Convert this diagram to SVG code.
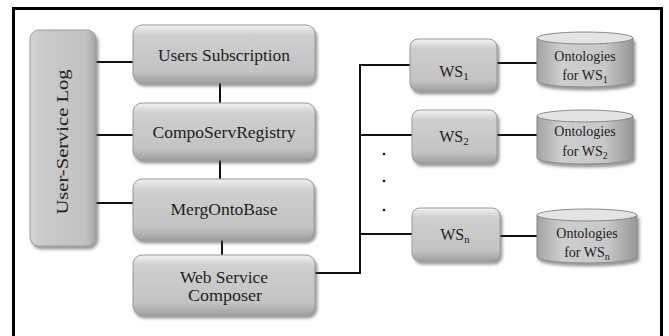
<svg xmlns="http://www.w3.org/2000/svg" width="669" height="336" viewBox="0 0 669 336">
<defs>
<linearGradient id="boxg" x1="0" y1="0" x2="0" y2="1">
<stop offset="0" stop-color="#f2f2f2"/>
<stop offset="0.18" stop-color="#cfcfcf"/>
<stop offset="0.8" stop-color="#c3c3c3"/>
<stop offset="1" stop-color="#a0a0a0"/>
</linearGradient>
<linearGradient id="logg" x1="0" y1="0" x2="1" y2="0">
<stop offset="0" stop-color="#d6d6d6"/>
<stop offset="0.2" stop-color="#cacaca"/>
<stop offset="0.85" stop-color="#c2c2c2"/>
<stop offset="1" stop-color="#a4a4a4"/>
</linearGradient>
<linearGradient id="cylg" x1="0" y1="0" x2="1" y2="0">
<stop offset="0" stop-color="#a4a4a4"/>
<stop offset="0.25" stop-color="#cecece"/>
<stop offset="0.7" stop-color="#c8c8c8"/>
<stop offset="1" stop-color="#969696"/>
</linearGradient>
<filter id="sh" x="-10%" y="-10%" width="125%" height="130%">
<feDropShadow dx="2" dy="3" stdDeviation="1.5" flood-color="#444" flood-opacity="0.55"/>
</filter>
</defs>
<style>
.box{fill:url(#boxg);stroke:#9a9a9a;stroke-width:1;filter:url(#sh)}
.cyl{fill:url(#cylg);stroke:#8a8a8a;stroke-width:1;filter:url(#sh)}
.cyltop{fill:#e4e4e4;stroke:#8a8a8a;stroke-width:1}
.t{font-family:'Liberation Serif','DejaVu Serif','Times New Roman',serif;font-size:16px;fill:#222;text-anchor:middle}
.ts{font-family:'Liberation Serif','DejaVu Serif','Times New Roman',serif;font-size:14px;fill:#222;text-anchor:middle}
.c{fill:none;stroke:#111;stroke-width:2}
</style>
<rect width="669" height="336" fill="#ffffff"/>
<path d="M13.5,336 V8.5 H661.5 V336" fill="none" stroke="#000" stroke-width="3"/>
<g id="connectors">
<line class="c" x1="96" y1="62" x2="133" y2="62"/>
<line class="c" x1="96" y1="135" x2="133" y2="135"/>
<line class="c" x1="96" y1="203" x2="133" y2="203"/>
<line class="c" x1="220" y1="83" x2="220" y2="103"/>
<line class="c" x1="220" y1="160" x2="220" y2="179"/>
<line class="c" x1="222" y1="240" x2="222" y2="255"/>
<path class="c" d="M315,273 H360 V65 H410"/>
<line class="c" x1="360" y1="135" x2="412" y2="135"/>
<line class="c" x1="360" y1="234" x2="412" y2="234"/>
<line class="c" x1="497" y1="63" x2="537" y2="63"/>
<line class="c" x1="497" y1="135" x2="537" y2="135"/>
<line class="c" x1="500" y1="236" x2="537" y2="236"/>
<circle cx="384" cy="154" r="1.3" fill="#111"/>
<circle cx="384" cy="181" r="1.3" fill="#111"/>
<circle cx="384" cy="210" r="1.3" fill="#111"/>
</g>
<g id="log">
<rect class="box" x="30" y="30" width="66" height="216" rx="9" style="fill:url(#logg)"/>
<text class="t" font-family="Liberation Serif, serif" transform="translate(68,142) rotate(-90)" textLength="145" lengthAdjust="spacingAndGlyphs">User-Service Log</text>
</g>
<g id="users-subscription">
<rect class="box" x="133" y="25" width="182" height="58" rx="9"/>
<text class="t" x="224" y="61" textLength="132" lengthAdjust="spacingAndGlyphs">Users Subscription</text>
</g>
<g id="composervregistry">
<rect class="box" x="133" y="103" width="182" height="57" rx="9"/>
<text class="t" x="224" y="138" textLength="143" lengthAdjust="spacingAndGlyphs">CompoServRegistry</text>
</g>
<g id="mergontobase">
<rect class="box" x="133" y="179" width="181" height="61" rx="9"/>
<text class="t" x="224" y="215" textLength="107" lengthAdjust="spacingAndGlyphs">MergOntoBase</text>
</g>
<g id="web-service-composer">
<rect class="box" x="133" y="255" width="182" height="60" rx="9"/>
<text class="t" x="224" y="283" textLength="88" lengthAdjust="spacingAndGlyphs">Web Service</text>
<text class="t" x="225" y="301" textLength="74" lengthAdjust="spacingAndGlyphs">Composer</text>
</g>
<g id="ws1">
<rect class="box" x="410" y="39" width="87" height="52" rx="8"/>
<text class="t" x="454" y="77">WS<tspan font-size="11" dy="3">1</tspan></text>
</g>
<g id="ws2">
<rect class="box" x="412" y="110" width="85" height="53" rx="8"/>
<text class="t" x="454" y="142">WS<tspan font-size="11" dy="3">2</tspan></text>
</g>
<g id="wsn">
<rect class="box" x="412" y="208" width="88" height="53" rx="8"/>
<text class="t" x="455" y="240">WS<tspan font-size="11" dy="3">n</tspan></text>
</g>
<g id="onto1">
<path class="cyl" d="M537,38 V81 A48,6 0 0 0 633,81 V38 Z"/>
<ellipse class="cyltop" cx="585" cy="38" rx="48" ry="6"/>
<text class="ts" x="585" y="61">Ontologies</text>
<text class="ts" x="585" y="80">for WS<tspan font-size="10" dy="3">1</tspan></text>
</g>
<g id="onto2">
<path class="cyl" d="M537,116 V158 A48,6 0 0 0 633,158 V116 Z"/>
<ellipse class="cyltop" cx="585" cy="116" rx="48" ry="6"/>
<text class="ts" x="585" y="136">Ontologies</text>
<text class="ts" x="585" y="156">for WS<tspan font-size="10" dy="3">2</tspan></text>
</g>
<g id="onton">
<path class="cyl" d="M537,215 V257 A50,6 0 0 0 637,257 V215 Z"/>
<ellipse class="cyltop" cx="587" cy="215" rx="50" ry="6"/>
<text class="ts" x="587" y="238">Ontologies</text>
<text class="ts" x="587" y="257">for WS<tspan font-size="10" dy="3">n</tspan></text>
</g>
</svg>
